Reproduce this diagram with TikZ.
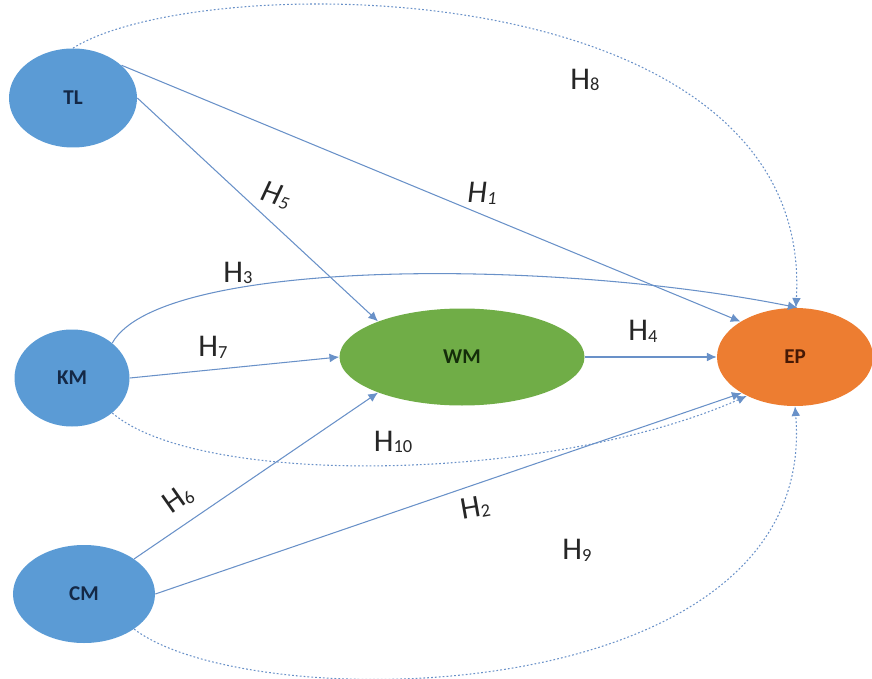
\documentclass[tikz,border=0pt]{standalone}
\usepackage{fontspec}
\setmainfont{Carlito}
\definecolor{latblue}{RGB}{91, 155, 213}
\definecolor{medgreen}{RGB}{112, 173, 71}
\definecolor{outorange}{RGB}{237, 125, 49}
\definecolor{linkblue}{RGB}{105, 145, 200}
\definecolor{navytxt}{RGB}{20, 40, 70}
\definecolor{greentxt}{RGB}{20, 45, 10}
\definecolor{browntxt}{RGB}{70, 25, 5}
\usepackage{tikz}
\usetikzlibrary{shapes.geometric, arrows.meta}
\newcommand{\hlab}[1]{H\raisebox{-1pt}{\fontsize{10.5}{11}\selectfont #1}}

\begin{document}
\begin{tikzpicture}[
    construct/.style={ellipse, inner sep=0pt, font=\fontsize{12}{14}\selectfont\bfseries},
    hyp/.style={draw=linkblue, line width=0.6pt, -{Latex[length=5.5pt, width=5pt]}},
    hypdot/.style={hyp, dash pattern=on 1pt off 1.2pt},
    hyplabel/.style={font=\fontsize{18}{20}\selectfont, text=black!85}
  ]
  \useasboundingbox (0, 0) rectangle (17.44, 13.56);

  % Constructs
  \node[construct, fill=latblue, text=navytxt, minimum width=2.56cm, minimum height=1.98cm] (TL) at (1.46, 11.60) {TL};
  \node[construct, fill=latblue, text=navytxt, minimum width=2.30cm, minimum height=1.94cm] (KM) at (1.44, 6.00) {KM};
  \node[construct, fill=latblue, text=navytxt, minimum width=2.84cm, minimum height=1.96cm] (CM) at (1.68, 1.68) {CM};
  \node[construct, fill=medgreen, text=greentxt, minimum width=4.90cm, minimum height=1.94cm] (WM) at (9.24, 6.42) {WM};
  \node[construct, fill=outorange, text=browntxt, minimum width=3.12cm, minimum height=1.96cm] (EP) at (15.90, 6.42) {EP};

  % Direct paths
  \draw[hyp] (TL.34) -- (EP.147);
  \draw[hyp] (TL.0) -- (WM.157);
  \draw[hyp] (KM.41) .. controls (3.2, 8.4) and (11, 8.4) .. (EP.87);
  \draw[hyp] (KM.0) -- (WM.180);
  \draw[hyp] (WM.0) -- (EP.180);
  \draw[hyp] (CM.35) -- (WM.203);
  \draw[hyp] (CM.0) -- (EP.214);

  % Mediated paths
  \draw[hypdot] (TL.90) .. controls (4, 14.2) and (16.3, 14.2) .. (EP.89);
  \draw[hypdot] (KM.-41) .. controls (4, 3.8) and (11, 3.9) .. (EP.219);
  \draw[hypdot] (CM.-35) .. controls (5, -0.8) and (16.4, -0.7) .. (EP.270);

  % Hypothesis labels
  \node[hyplabel] (h8) at (11.70, 11.96) {\hlab{8}};
  \node[hyplabel, font=\fontsize{18}{20}\selectfont\itshape] (h1) at (9.64, 9.70) {\hlab{1}};
  \node[hyplabel, font=\fontsize{18}{20}\selectfont\itshape, rotate=-18] (h5) at (5.52, 9.66) {\hlab{5}};
  \node[hyplabel] (h3) at (4.76, 8.10) {\hlab{3}};
  \node[hyplabel] (h7) at (4.26, 6.62) {\hlab{7}};
  \node[hyplabel] (h4) at (12.86, 6.94) {\hlab{4}};
  \node[hyplabel] (h10) at (7.86, 4.72) {\hlab{10}};
  \node[hyplabel, rotate=35] (h6) at (3.56, 3.58) {\hlab{6}};
  \node[hyplabel, rotate=10] (h2) at (9.50, 3.40) {\hlab{2}};
  \node[hyplabel] (h9) at (11.54, 2.56) {\hlab{9}};
\end{tikzpicture}
\end{document}
